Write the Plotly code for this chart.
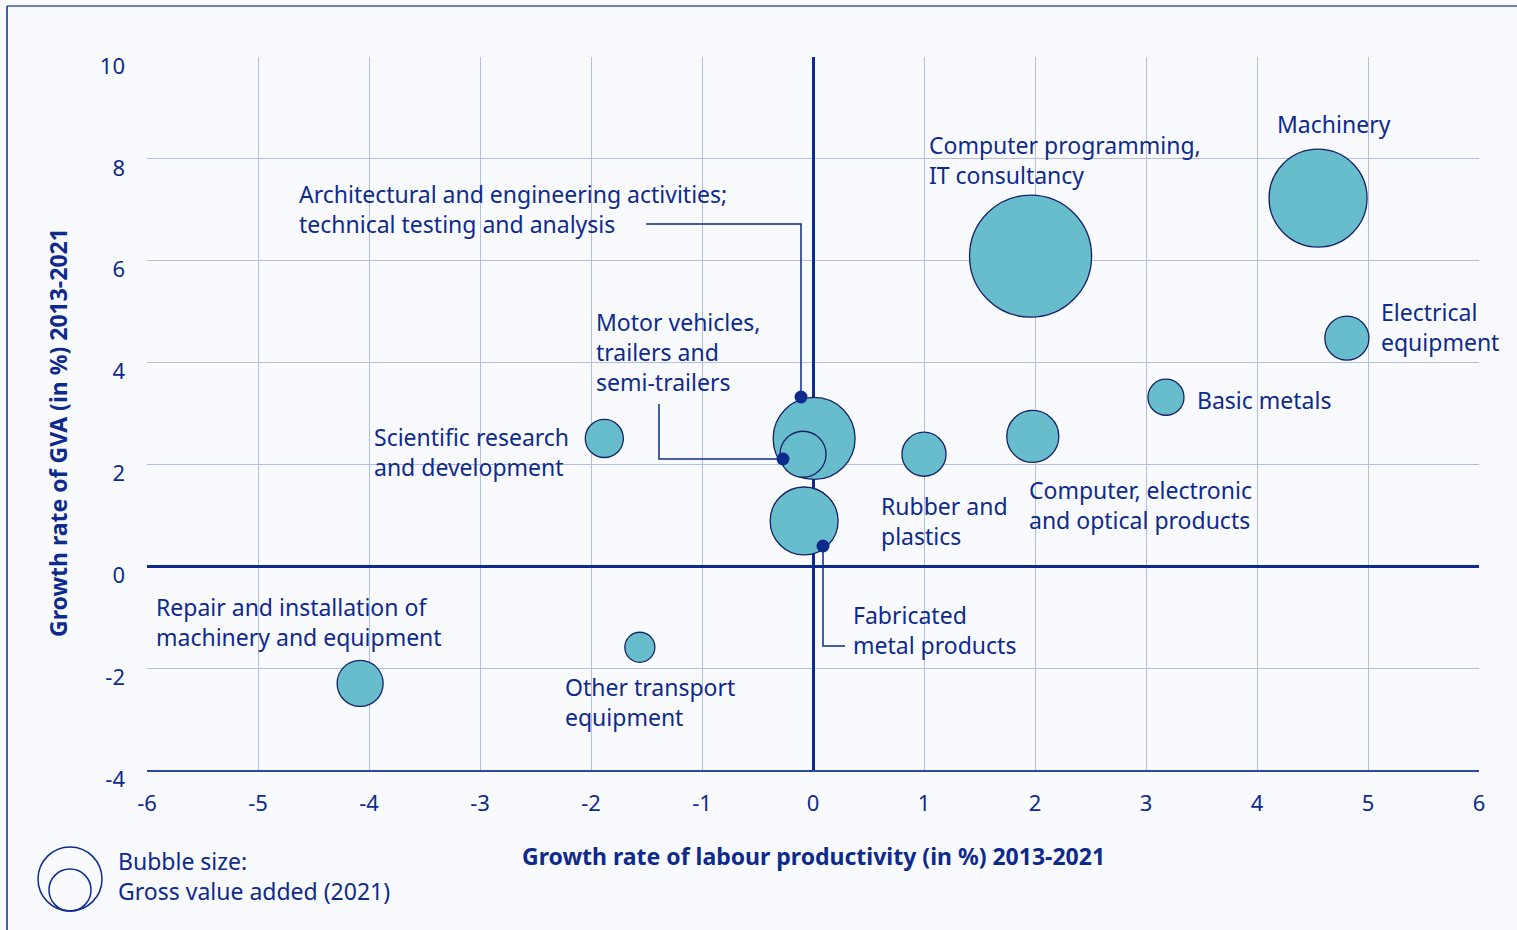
import plotly.graph_objects as go

# ---------------- data ----------------
sectors = [
    "Computer programming, IT consultancy",
    "Machinery",
    "Electrical equipment",
    "Basic metals",
    "Computer, electronic and optical products",
    "Rubber and plastics",
    "Architectural and engineering activities; technical testing and analysis",
    "Motor vehicles, trailers and semi-trailers",
    "Fabricated metal products",
    "Scientific research and development",
    "Other transport equipment",
    "Repair and installation of machinery and equipment",
]
productivity_growth = [1.96, 4.55, 4.81, 3.18, 1.98, 1.00, 0.01, -0.09, -0.08, -1.88, -1.56, -4.08]
gva_growth = [6.09, 7.23, 4.48, 3.32, 2.55, 2.20, 2.51, 2.20, 0.89, 2.51, -1.59, -2.30]
gva_2021 = [100.6, 64.9, 13.1, 8.8, 18.3, 13.1, 45.4, 14.3, 31.2, 9.8, 6.1, 14.3]

x_ticks = [-6, -5, -4, -3, -2, -1, 0, 1, 2, 3, 4, 5, 6]
y_ticks = [-4, -2, 0, 2, 4, 6, 8, 10]

NAVY = "#0E2A8C"
DARK = "#16206A"
TEAL = "#67BDCB"
GRID = "#B4BFE0"
BG = "#F9FAFD"
FONT = "Noto Sans"
FS = 23

# pixel geometry of the plot area
L, R, T, B = 147, 1479, 57, 770
W, H = 1517, 930


def dx(px):
    return -6 + (px - L) / (R - L) * 12


def dy(py):
    return -4 + (B - py) / (B - T) * 14


def ppx(px):
    return (px - L) / (R - L)


def ppy(py):
    return (B - py) / (B - T)


fig = go.Figure()

fig.add_trace(go.Scatter(
    x=productivity_growth, y=gva_growth, mode="markers",
    text=sectors,
    marker=dict(size=gva_2021, sizemode="area", sizeref=1 / 74,
                color=TEAL, line=dict(color=DARK, width=1.3), opacity=1),
    hoverinfo="text", showlegend=False,
))

# leader lines
leaders = [
    [(646, 224), (801, 224), (801, 397)],
    [(659, 404), (659, 459), (783, 459)],
    [(823, 546), (823, 646), (845, 646)],
]
dots_x, dots_y = [], []
for pts in leaders:
    fig.add_trace(go.Scatter(
        x=[dx(p[0]) for p in pts], y=[dy(p[1]) for p in pts], mode="lines",
        line=dict(color=NAVY, width=1.5), hoverinfo="skip", showlegend=False))
for p in [(801, 397), (783, 459), (823, 546)]:
    dots_x.append(dx(p[0]))
    dots_y.append(dy(p[1]))
fig.add_trace(go.Scatter(x=dots_x, y=dots_y, mode="markers",
                         marker=dict(size=13, color=NAVY), hoverinfo="skip",
                         showlegend=False))

# labels (left edge px, centre y px, text)
labels = [
    (297, 209, "Architectural and engineering activities;<br>technical testing and analysis"),
    (594, 352, "Motor vehicles,<br>trailers and<br>semi-trailers"),
    (372, 452, "Scientific research<br>and development"),
    (927, 160, "Computer programming,<br>IT consultancy"),
    (1275, 124, "Machinery"),
    (1379, 327, "Electrical<br>equipment"),
    (1195, 400, "Basic metals"),
    (1027, 505, "Computer, electronic<br>and optical products"),
    (879, 521, "Rubber and<br>plastics"),
    (851, 630, "Fabricated<br>metal products"),
    (154, 622, "Repair and installation of<br>machinery and equipment"),
    (563, 702, "Other transport<br>equipment"),
]
for px, py, txt in labels:
    fig.add_annotation(x=ppx(px), y=ppy(py), xref="paper", yref="paper",
                       text=txt, showarrow=False, xanchor="left", yanchor="middle",
                       align="left", font=dict(family=FONT, size=FS, color=NAVY))

# axis titles
fig.add_annotation(x=ppx(813), y=ppy(856), xref="paper", yref="paper",
                   text="<b>Growth rate of labour productivity (in %) 2013-2021</b>",
                   showarrow=False, xanchor="center", yanchor="middle",
                   font=dict(family=FONT, size=FS, color=NAVY))
fig.add_annotation(x=ppx(58), y=ppy(433), xref="paper", yref="paper",
                   text="<b>Growth rate of GVA (in %) 2013-2021</b>", textangle=-90,
                   showarrow=False, xanchor="center", yanchor="middle",
                   font=dict(family=FONT, size=FS, color=NAVY))

# bubble size legend
fig.add_annotation(x=ppx(116), y=ppy(876), xref="paper", yref="paper",
                   text="Bubble size:<br>Gross value added (2021)",
                   showarrow=False, xanchor="left", yanchor="middle", align="left",
                   font=dict(family=FONT, size=FS, color=NAVY))

shapes = [
    dict(type="circle", xref="paper", yref="paper",
         x0=ppx(38), x1=ppx(102), y0=ppy(911), y1=ppy(847),
         line=dict(color=NAVY, width=1.5)),
    dict(type="circle", xref="paper", yref="paper",
         x0=ppx(49), x1=ppx(91), y0=ppy(911), y1=ppy(869),
         line=dict(color=NAVY, width=1.5)),
    # outer frame
    dict(type="line", xref="paper", yref="paper", x0=ppx(7), x1=ppx(1520),
         y0=ppy(6), y1=ppy(6), line=dict(color="#3A56B0", width=1.5)),
    dict(type="line", xref="paper", yref="paper", x0=ppx(7), x1=ppx(7),
         y0=ppy(6), y1=ppy(935), line=dict(color=NAVY, width=1.5)),
]

fig.update_layout(
    width=W, height=H,
    margin=dict(l=L, r=W - R, t=T, b=H - B),
    paper_bgcolor=BG, plot_bgcolor=BG,
    shapes=shapes,
    font=dict(family=FONT, size=FS, color=NAVY),
)
fig.update_xaxes(range=[-6, 6], tickvals=x_ticks, ticktext=[str(v) for v in x_ticks],
                 showgrid=True, gridcolor=GRID, gridwidth=1.3,
                 zeroline=True, zerolinecolor=NAVY, zerolinewidth=2.5,
                 showline=True, linecolor="#2C48A8", linewidth=1.5, mirror=False,
                 ticks="", ticklabelstandoff=13,
                 tickfont=dict(family=FONT, size=22, color=NAVY))
fig.update_yaxes(range=[-4, 10], tickvals=y_ticks, ticktext=[str(v) for v in y_ticks],
                 showgrid=True, gridcolor=GRID, gridwidth=1.3,
                 zeroline=True, zerolinecolor=NAVY, zerolinewidth=2.5,
                 showline=False, ticks="", ticklabelstandoff=21, ticklabelshift=9,
                 tickfont=dict(family=FONT, size=22, color=NAVY))

fig.write_html("out.html", config={"displayModeBar": False},
               post_script="document.body.style.margin='0';document.body.style.background='#F9FAFD';")
